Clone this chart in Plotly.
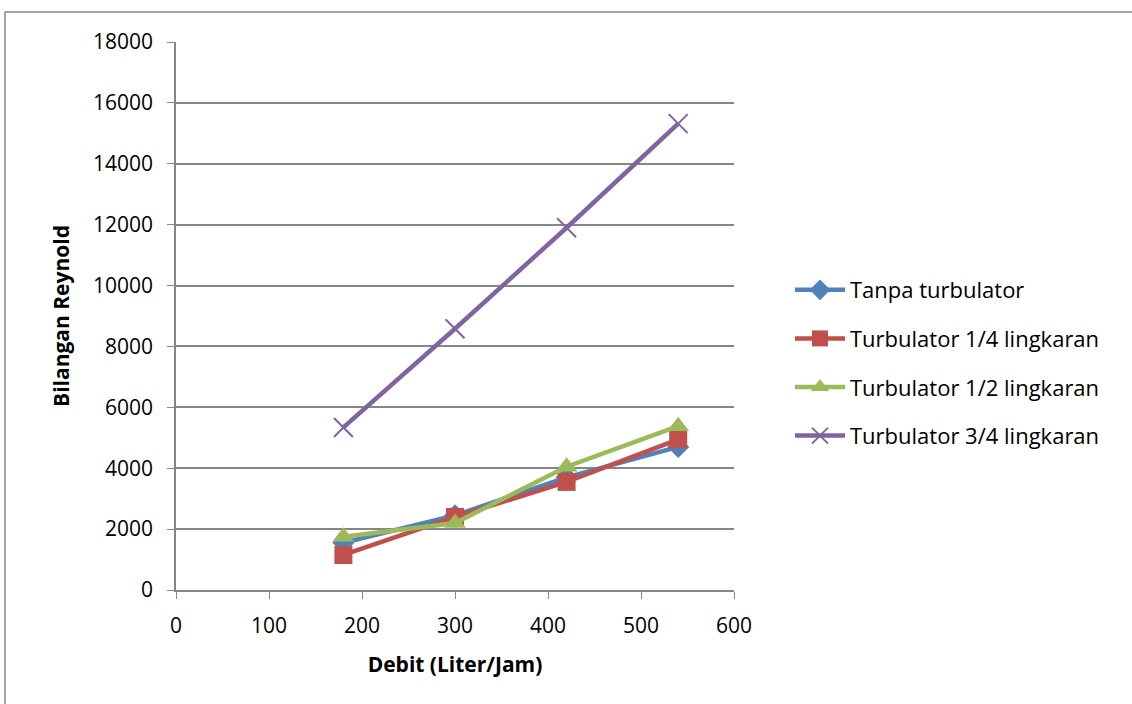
import plotly.graph_objects as go

debit = [180, 300, 420, 540]
tanpa = [1550, 2450, 3700, 4700]
quarter = [1150, 2400, 3550, 4950]
half = [1750, 2200, 4050, 5380]
three_quarter = [5340, 8580, 11900, 15320]

names = ["Tanpa turbulator", "Turbulator 1/4 lingkaran",
         "Turbulator 1/2 lingkaran", "Turbulator 3/4 lingkaran"]
colors = ["#4F81BD", "#C0504D", "#9BBB59", "#8064A2"]
symbols = ["diamond", "square", "triangle-up", "x-thin-open"]
sizes = [17, 18, 19, 19]
series = [tanpa, quarter, half, three_quarter]

fig = go.Figure()
for i, (name, col, sym, sz, ys) in enumerate(zip(names, colors, symbols, sizes, series)):
    marker = dict(symbol=sym, size=sz, color=col)
    if sym == "x-thin-open":
        marker["line"] = dict(color=col, width=2)
    fig.add_trace(go.Scatter(x=debit, y=ys, name=name, mode="lines+markers",
                             legendgroup=f"g{i}",
                             line=dict(color=col, width=4.5), marker=marker))

W, H = 1132, 704
L, R, T, B = 176, 398, 42, 114
pw, ph = W - L - R, H - T - B

def px(x):
    return (x - L) / pw

def py(y):
    return (H - B - y) / ph

fig.add_shape(type="rect", xref="paper", yref="paper",
              x0=px(5), x1=px(1140), y0=py(712), y1=py(12),
              line=dict(color="#868686", width=1.5), fillcolor="rgba(0,0,0,0)",
              layer="below")

font_family = "Open Sans, Liberation Sans, sans-serif"
fig.update_layout(
    width=W, height=H,
    margin=dict(l=L, r=R, t=T, b=B),
    paper_bgcolor="white", plot_bgcolor="white",
    font=dict(family=font_family, color="black", size=21),
    showlegend=True,
    legend=dict(x=px(790), y=py(269), xanchor="left", yanchor="top",
                font=dict(size=22, family=font_family), tracegroupgap=17,
                itemwidth=50, bgcolor="rgba(0,0,0,0)"),
    xaxis=dict(range=[0, 600], dtick=100, showgrid=False, showline=True,
               linecolor="#868686", linewidth=1.5, ticks="outside", ticklen=7,
               tickcolor="#868686", zeroline=False, ticklabelstandoff=9,
               tickfont=dict(size=21),
               title=dict(text="<b>Debit (Liter/Jam)</b>", font=dict(size=21), standoff=19)),
    yaxis=dict(range=[0, 18000], dtick=2000, tickformat="d", showgrid=True,
               gridcolor="#868686", gridwidth=1.5, showline=True,
               linecolor="#868686", linewidth=1.5,
               ticks="outside", ticklen=7, tickcolor="#868686", zeroline=False,
               ticklabelstandoff=10,
               tickfont=dict(size=21),
               title=dict(text="<b>Bilangan Reynold</b>", font=dict(size=21), standoff=18)),
)

fig.write_html("out.html")
